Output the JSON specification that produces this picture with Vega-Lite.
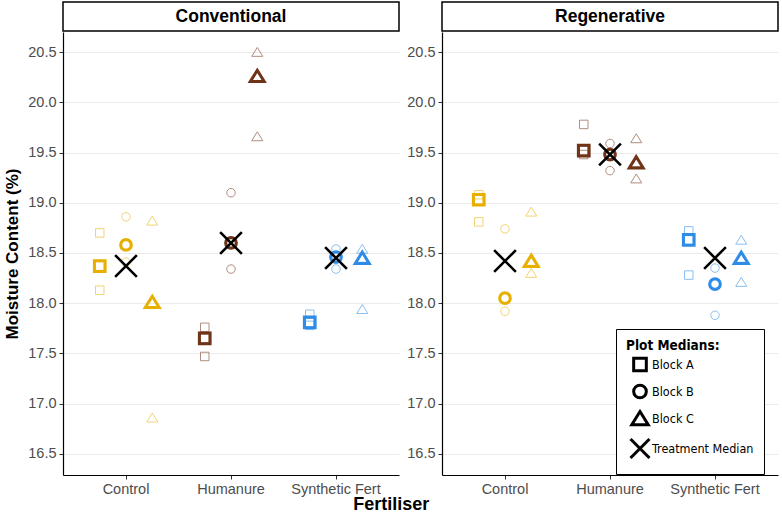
{
  "$schema": "https://vega.github.io/schema/vega-lite/v6.json",
  "background": "white",
  "padding": {"left": 3, "top": 1, "right": 5, "bottom": 0},
  "datasets": {
    "obs": [
      {"system": "Conventional", "fertiliser": "Control", "block": "Block A", "moisture": 18.70},
      {"system": "Conventional", "fertiliser": "Control", "block": "Block A", "moisture": 18.37},
      {"system": "Conventional", "fertiliser": "Control", "block": "Block A", "moisture": 18.13},
      {"system": "Conventional", "fertiliser": "Control", "block": "Block B", "moisture": 18.86},
      {"system": "Conventional", "fertiliser": "Control", "block": "Block B", "moisture": 18.58},
      {"system": "Conventional", "fertiliser": "Control", "block": "Block B", "moisture": 18.41},
      {"system": "Conventional", "fertiliser": "Control", "block": "Block C", "moisture": 18.82},
      {"system": "Conventional", "fertiliser": "Control", "block": "Block C", "moisture": 18.01},
      {"system": "Conventional", "fertiliser": "Control", "block": "Block C", "moisture": 16.86},
      {"system": "Conventional", "fertiliser": "Humanure", "block": "Block A", "moisture": 17.76},
      {"system": "Conventional", "fertiliser": "Humanure", "block": "Block A", "moisture": 17.65},
      {"system": "Conventional", "fertiliser": "Humanure", "block": "Block A", "moisture": 17.47},
      {"system": "Conventional", "fertiliser": "Humanure", "block": "Block B", "moisture": 19.10},
      {"system": "Conventional", "fertiliser": "Humanure", "block": "Block B", "moisture": 18.60},
      {"system": "Conventional", "fertiliser": "Humanure", "block": "Block B", "moisture": 18.34},
      {"system": "Conventional", "fertiliser": "Humanure", "block": "Block C", "moisture": 20.50},
      {"system": "Conventional", "fertiliser": "Humanure", "block": "Block C", "moisture": 20.26},
      {"system": "Conventional", "fertiliser": "Humanure", "block": "Block C", "moisture": 19.66},
      {"system": "Conventional", "fertiliser": "Synthetic Fert", "block": "Block A", "moisture": 17.89},
      {"system": "Conventional", "fertiliser": "Synthetic Fert", "block": "Block A", "moisture": 17.81},
      {"system": "Conventional", "fertiliser": "Synthetic Fert", "block": "Block A", "moisture": 17.78},
      {"system": "Conventional", "fertiliser": "Synthetic Fert", "block": "Block B", "moisture": 18.54},
      {"system": "Conventional", "fertiliser": "Synthetic Fert", "block": "Block B", "moisture": 18.46},
      {"system": "Conventional", "fertiliser": "Synthetic Fert", "block": "Block B", "moisture": 18.34},
      {"system": "Conventional", "fertiliser": "Synthetic Fert", "block": "Block C", "moisture": 18.54},
      {"system": "Conventional", "fertiliser": "Synthetic Fert", "block": "Block C", "moisture": 18.45},
      {"system": "Conventional", "fertiliser": "Synthetic Fert", "block": "Block C", "moisture": 17.94},
      {"system": "Regenerative", "fertiliser": "Control", "block": "Block A", "moisture": 19.08},
      {"system": "Regenerative", "fertiliser": "Control", "block": "Block A", "moisture": 19.03},
      {"system": "Regenerative", "fertiliser": "Control", "block": "Block A", "moisture": 18.81},
      {"system": "Regenerative", "fertiliser": "Control", "block": "Block B", "moisture": 18.74},
      {"system": "Regenerative", "fertiliser": "Control", "block": "Block B", "moisture": 18.05},
      {"system": "Regenerative", "fertiliser": "Control", "block": "Block B", "moisture": 17.92},
      {"system": "Regenerative", "fertiliser": "Control", "block": "Block C", "moisture": 18.91},
      {"system": "Regenerative", "fertiliser": "Control", "block": "Block C", "moisture": 18.42},
      {"system": "Regenerative", "fertiliser": "Control", "block": "Block C", "moisture": 18.30},
      {"system": "Regenerative", "fertiliser": "Humanure", "block": "Block A", "moisture": 19.78},
      {"system": "Regenerative", "fertiliser": "Humanure", "block": "Block A", "moisture": 19.52},
      {"system": "Regenerative", "fertiliser": "Humanure", "block": "Block A", "moisture": 19.48},
      {"system": "Regenerative", "fertiliser": "Humanure", "block": "Block B", "moisture": 19.59},
      {"system": "Regenerative", "fertiliser": "Humanure", "block": "Block B", "moisture": 19.48},
      {"system": "Regenerative", "fertiliser": "Humanure", "block": "Block B", "moisture": 19.32},
      {"system": "Regenerative", "fertiliser": "Humanure", "block": "Block C", "moisture": 19.64},
      {"system": "Regenerative", "fertiliser": "Humanure", "block": "Block C", "moisture": 19.40},
      {"system": "Regenerative", "fertiliser": "Humanure", "block": "Block C", "moisture": 19.24},
      {"system": "Regenerative", "fertiliser": "Synthetic Fert", "block": "Block A", "moisture": 18.72},
      {"system": "Regenerative", "fertiliser": "Synthetic Fert", "block": "Block A", "moisture": 18.63},
      {"system": "Regenerative", "fertiliser": "Synthetic Fert", "block": "Block A", "moisture": 18.28},
      {"system": "Regenerative", "fertiliser": "Synthetic Fert", "block": "Block B", "moisture": 18.35},
      {"system": "Regenerative", "fertiliser": "Synthetic Fert", "block": "Block B", "moisture": 18.19},
      {"system": "Regenerative", "fertiliser": "Synthetic Fert", "block": "Block B", "moisture": 17.88},
      {"system": "Regenerative", "fertiliser": "Synthetic Fert", "block": "Block C", "moisture": 18.63},
      {"system": "Regenerative", "fertiliser": "Synthetic Fert", "block": "Block C", "moisture": 18.45},
      {"system": "Regenerative", "fertiliser": "Synthetic Fert", "block": "Block C", "moisture": 18.21}
    ]
  },
  "title": {
    "text": "Fertiliser",
    "orient": "bottom",
    "anchor": "middle",
    "font": "Liberation Sans",
    "fontSize": 18,
    "fontWeight": "bold",
    "color": "black",
    "offset": 0
  },
  "spacing": 6,
  "hconcat": [
    {
      "spacing": 0,
      "vconcat": [
        {
          "data": {"values": [{"system": "Conventional"}]},
          "width": 336,
          "height": 29,
          "view": {"stroke": "black", "strokeWidth": 1.5},
          "mark": {"type": "text", "font": "Liberation Sans", "fontSize": 17.5, "fontWeight": "bold", "color": "black"},
          "encoding": {"text": {"field": "system"}}
        },
        {
          "width": 336,
          "height": 443,
          "data": {"name": "obs"},
          "transform": [{"filter": "datum.system === 'Conventional'"}],
          "encoding": {
            "x": {
              "field": "fertiliser",
              "type": "nominal",
              "scale": {"type": "band", "domain": ["Control", "Humanure", "Synthetic Fert"], "paddingInner": 0, "paddingOuter": 0.1},
              "axis": {"title": null, "labelAngle": 0, "bandPosition": 0.5, "grid": false}
            },
            "y": {
              "field": "moisture",
              "type": "quantitative",
              "scale": {"domain": [16.29, 20.70], "nice": false, "zero": false},
              "axis": {"title": "Moisture Content (%)", "values": [16.5, 17, 17.5, 18, 18.5, 19, 19.5, 20, 20.5], "format": ".1f"}
            },
            "color": {
              "field": "fertiliser",
              "type": "nominal",
              "scale": {"domain": ["Control", "Humanure", "Synthetic Fert"], "range": ["#E7B000", "#6F3317", "#2E8CE6"]},
              "legend": null
            }
          },
          "layer": [
            {
              "mark": {"type": "point", "filled": false, "strokeWidth": 1, "size": 72, "opacity": 0.55},
              "encoding": {
                "xOffset": {"field": "block", "type": "nominal", "scale": {"domain": ["Block A", "Block B", "Block C"], "paddingInner": 0, "paddingOuter": 1.5}},
                "shape": {
                  "field": "block",
                  "type": "nominal",
                  "title": "Plot Medians:",
                  "scale": {"domain": ["Block A", "Block B", "Block C", "Treatment Median"], "range": ["square", "circle", "M0,-1.1L1.3,1L-1.3,1Z", "M-1.5,-1.5L1.5,1.5M1.5,-1.5L-1.5,1.5"]},
                  "legend": {"title": "Plot Medians:", "orient": "none", "legendX": 553, "legendY": 327, "padding": 10, "strokeColor": "black", "fillColor": "white", "titleFont": "DejaVu Sans Condensed, Liberation Sans", "titleFontSize": 13.5, "titleFontWeight": "bold", "titleColor": "black", "titlePadding": 4, "labelFont": "DejaVu Sans Condensed, Liberation Sans", "labelFontSize": 12.5, "labelColor": "black", "symbolStrokeColor": "black", "symbolStrokeWidth": 3, "symbolSize": 160, "symbolOpacity": 1, "symbolFillColor": "transparent", "symbolOffset": 6, "rowPadding": 1}
                }
              }
            },
            {
              "transform": [{"aggregate": [{"op": "median", "field": "moisture", "as": "moisture"}], "groupby": ["system", "fertiliser", "block"]}],
              "mark": {"type": "point", "filled": false, "strokeWidth": 3, "size": 115, "opacity": 1},
              "encoding": {
                "xOffset": {"field": "block", "type": "nominal", "scale": {"domain": ["Block A", "Block B", "Block C"], "paddingInner": 0, "paddingOuter": 1.5}},
                "shape": {"field": "block", "type": "nominal", "title": "Plot Medians:",
                  "legend": {"title": "Plot Medians:", "orient": "none", "legendX": 553, "legendY": 327, "padding": 10, "strokeColor": "black", "fillColor": "white", "titleFont": "DejaVu Sans Condensed, Liberation Sans", "titleFontSize": 13.5, "titleFontWeight": "bold", "titleColor": "black", "titlePadding": 4, "labelFont": "DejaVu Sans Condensed, Liberation Sans", "labelFontSize": 12.5, "labelColor": "black", "symbolStrokeColor": "black", "symbolStrokeWidth": 3, "symbolSize": 160, "symbolOpacity": 1, "symbolFillColor": "transparent", "symbolOffset": 6, "rowPadding": 1}
                }
              }
            },
            {
              "transform": [
                {"aggregate": [{"op": "median", "field": "moisture", "as": "moisture"}], "groupby": ["system", "fertiliser", "block"]},
                {"aggregate": [{"op": "median", "field": "moisture", "as": "moisture"}], "groupby": ["system", "fertiliser"]}
              ],
              "mark": {"type": "point", "filled": false, "strokeWidth": 2.6, "size": 210, "opacity": 1},
              "encoding": {
                "color": {"value": "black"},
                "shape": {"datum": "Treatment Median", "type": "nominal", "title": "Plot Medians:",
                  "legend": {"title": "Plot Medians:", "orient": "none", "legendX": 553, "legendY": 327, "padding": 10, "strokeColor": "black", "fillColor": "white", "titleFont": "DejaVu Sans Condensed, Liberation Sans", "titleFontSize": 13.5, "titleFontWeight": "bold", "titleColor": "black", "titlePadding": 4, "labelFont": "DejaVu Sans Condensed, Liberation Sans", "labelFontSize": 12.5, "labelColor": "black", "symbolStrokeColor": "black", "symbolStrokeWidth": 3, "symbolSize": 160, "symbolOpacity": 1, "symbolFillColor": "transparent", "symbolOffset": 6, "rowPadding": 1}
                }
              }
            }
          ]
        }
      ]
    },
    {
      "spacing": 0,
      "vconcat": [
        {
          "data": {"values": [{"system": "Regenerative"}]},
          "width": 336,
          "height": 29,
          "view": {"stroke": "black", "strokeWidth": 1.5},
          "mark": {"type": "text", "font": "Liberation Sans", "fontSize": 17.5, "fontWeight": "bold", "color": "black"},
          "encoding": {"text": {"field": "system"}}
        },
        {
          "width": 336,
          "height": 443,
          "data": {"name": "obs"},
          "transform": [{"filter": "datum.system === 'Regenerative'"}],
          "encoding": {
            "x": {
              "field": "fertiliser",
              "type": "nominal",
              "scale": {"type": "band", "domain": ["Control", "Humanure", "Synthetic Fert"], "paddingInner": 0, "paddingOuter": 0.1},
              "axis": {"title": null, "labelAngle": 0, "bandPosition": 0.5, "grid": false}
            },
            "y": {
              "field": "moisture",
              "type": "quantitative",
              "scale": {"domain": [16.29, 20.70], "nice": false, "zero": false},
              "axis": {"title": null, "values": [16.5, 17, 17.5, 18, 18.5, 19, 19.5, 20, 20.5], "format": ".1f"}
            },
            "color": {
              "field": "fertiliser",
              "type": "nominal",
              "scale": {"domain": ["Control", "Humanure", "Synthetic Fert"], "range": ["#E7B000", "#6F3317", "#2E8CE6"]},
              "legend": null
            }
          },
          "layer": [
            {
              "mark": {"type": "point", "filled": false, "strokeWidth": 1, "size": 72, "opacity": 0.55},
              "encoding": {
                "xOffset": {"field": "block", "type": "nominal", "scale": {"domain": ["Block A", "Block B", "Block C"], "paddingInner": 0, "paddingOuter": 1.5}},
                "shape": {"field": "block", "type": "nominal", "title": "Plot Medians:",
                  "legend": {"title": "Plot Medians:", "orient": "none", "legendX": 553, "legendY": 327, "padding": 10, "strokeColor": "black", "fillColor": "white", "titleFont": "DejaVu Sans Condensed, Liberation Sans", "titleFontSize": 13.5, "titleFontWeight": "bold", "titleColor": "black", "titlePadding": 4, "labelFont": "DejaVu Sans Condensed, Liberation Sans", "labelFontSize": 12.5, "labelColor": "black", "symbolStrokeColor": "black", "symbolStrokeWidth": 3, "symbolSize": 160, "symbolOpacity": 1, "symbolFillColor": "transparent", "symbolOffset": 6, "rowPadding": 1}
                }
              }
            },
            {
              "transform": [{"aggregate": [{"op": "median", "field": "moisture", "as": "moisture"}], "groupby": ["system", "fertiliser", "block"]}],
              "mark": {"type": "point", "filled": false, "strokeWidth": 3, "size": 115, "opacity": 1},
              "encoding": {
                "xOffset": {"field": "block", "type": "nominal", "scale": {"domain": ["Block A", "Block B", "Block C"], "paddingInner": 0, "paddingOuter": 1.5}},
                "shape": {"field": "block", "type": "nominal", "title": "Plot Medians:",
                  "legend": {"title": "Plot Medians:", "orient": "none", "legendX": 553, "legendY": 327, "padding": 10, "strokeColor": "black", "fillColor": "white", "titleFont": "DejaVu Sans Condensed, Liberation Sans", "titleFontSize": 13.5, "titleFontWeight": "bold", "titleColor": "black", "titlePadding": 4, "labelFont": "DejaVu Sans Condensed, Liberation Sans", "labelFontSize": 12.5, "labelColor": "black", "symbolStrokeColor": "black", "symbolStrokeWidth": 3, "symbolSize": 160, "symbolOpacity": 1, "symbolFillColor": "transparent", "symbolOffset": 6, "rowPadding": 1}
                }
              }
            },
            {
              "transform": [
                {"aggregate": [{"op": "median", "field": "moisture", "as": "moisture"}], "groupby": ["system", "fertiliser", "block"]},
                {"aggregate": [{"op": "median", "field": "moisture", "as": "moisture"}], "groupby": ["system", "fertiliser"]}
              ],
              "mark": {"type": "point", "filled": false, "strokeWidth": 2.6, "size": 210, "opacity": 1},
              "encoding": {
                "color": {"value": "black"},
                "shape": {"datum": "Treatment Median", "type": "nominal", "title": "Plot Medians:",
                  "legend": {"title": "Plot Medians:", "orient": "none", "legendX": 553, "legendY": 327, "padding": 10, "strokeColor": "black", "fillColor": "white", "titleFont": "DejaVu Sans Condensed, Liberation Sans", "titleFontSize": 13.5, "titleFontWeight": "bold", "titleColor": "black", "titlePadding": 4, "labelFont": "DejaVu Sans Condensed, Liberation Sans", "labelFontSize": 12.5, "labelColor": "black", "symbolStrokeColor": "black", "symbolStrokeWidth": 3, "symbolSize": 160, "symbolOpacity": 1, "symbolFillColor": "transparent", "symbolOffset": 6, "rowPadding": 1}
                }
              }
            }
          ]
        }
      ]
    }
  ],
  "resolve": {"scale": {"shape": "shared"}},
  "config": {
    "font": "Liberation Sans",
    "view": {"stroke": null},
    "axis": {
      "domainColor": "black",
      "domainWidth": 1.2,
      "tickColor": "#333333",
      "tickSize": 4,
      "labelColor": "#4D4D4D",
      "labelFont": "Liberation Sans",
      "labelFontSize": 14.5,
      "labelPadding": 3,
      "gridColor": "#EBEBEB",
      "gridWidth": 1,
      "titleFont": "Liberation Sans",
      "titleFontSize": 17,
      "titleFontWeight": "bold",
      "titleColor": "black",
      "titlePadding": 6
    },
    "axisX": {"grid": false, "labelPadding": 3}
  }
}
